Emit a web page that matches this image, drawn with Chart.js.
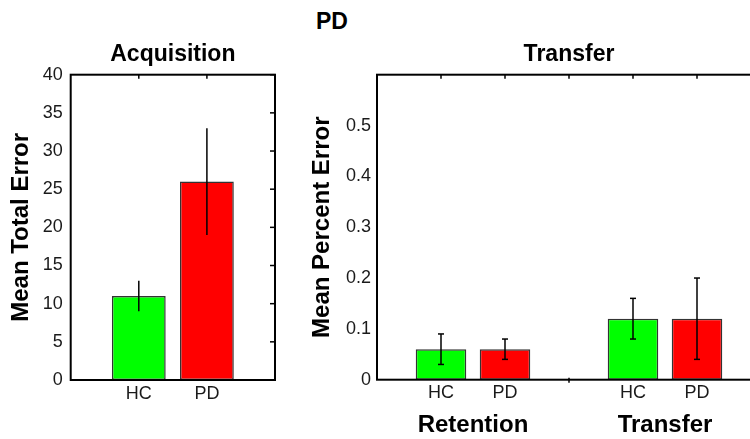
<!DOCTYPE html>
<html>
<head>
<meta charset="utf-8">
<script src="https://cdn.jsdelivr.net/npm/chart.js@4.4.1/dist/chart.umd.min.js"></script>
<style>
    html, body { margin: 0; padding: 0; background: #fff; width: 750px; height: 439px; overflow: hidden; position: relative; }
    #main-title { position: absolute; left: 232px; top: 10px; width: 200px; text-align: center; font: bold 23px 'Liberation Sans', Arial, sans-serif; line-height: 23px; color: #000; }
    #acqChart { position: absolute; left: 0; top: 0; }
    #transferChart { position: absolute; left: 300px; top: 0; }
</style>
</head>
<body>
<div id="main-title">PD</div>
<canvas id="acqChart" width="300" height="439"></canvas>
<canvas id="transferChart" width="462" height="439"></canvas>
<script>
// ===== Data =====
const subjects = ['HC', 'PD'];
const subjectColors = ['#00ff00', '#ff0000'];

// Acquisition: mean total error with error bar ends
const acqMean = [11, 26];
const acqLow = [9, 19];
const acqHigh = [13, 33];

// Transfer panel: phases x subjects (HC, PD, HC, PD)
const phases = ['Retention', 'Transfer'];
const pctMean = [0.06, 0.06, 0.12, 0.12];
const pctLow = [0.03, 0.04, 0.08, 0.04];
const pctHigh = [0.09, 0.08, 0.16, 0.20];

const FONT = "'Liberation Sans', Arial, Helvetica, sans-serif";

// x position of each bar: phases are spaced 3 units apart
const pctX = [];
const pctLabels = [];
phases.forEach((p, g) => {
    subjects.forEach((s, i) => {
        pctX.push(g * 3 + i + 1);
        pctLabels.push(s);
    });
});
const separators = phases.slice(1).map((p, g) => (g + 1) * 3);

// Error bars + box frame with inward ticks
const framePlugin = {
    id: 'frame',
    afterDatasetsDraw(chart, args, opts) {
        const { ctx, chartArea: a, scales } = chart;
        const x = scales.x, y = scales.y;
        ctx.save();
        ctx.strokeStyle = '#000';

        const line = (x1, y1, x2, y2) => {
            ctx.beginPath();
            ctx.moveTo(x1, y1);
            ctx.lineTo(x2, y2);
            ctx.stroke();
        };

        // error bars
        const ds = chart.data.datasets[0];
        const meta = chart.getDatasetMeta(0);
        ctx.lineWidth = 1.5;
        meta.data.forEach((bar, i) => {
            const yl = y.getPixelForValue(ds.errLow[i]);
            const yh = y.getPixelForValue(ds.errHigh[i]);
            line(bar.x, yl, bar.x, yh);
            if (ds.capWidth) {
                line(bar.x - ds.capWidth, yl, bar.x + ds.capWidth, yl);
                line(bar.x - ds.capWidth, yh, bar.x + ds.capWidth, yh);
            }
        });

        // inward ticks
        (opts.topTicks || []).forEach(v => {
            const px = x.getPixelForValue(v);
            line(px, a.top, px, a.top + 4);
        });
        if (opts.rightTicks) {
            y.ticks.forEach(t => {
                const py = y.getPixelForValue(t.value);
                line(a.right - 5, py, a.right, py);
            });
        }
        (opts.bottomTicks || []).forEach(v => {
            const px = x.getPixelForValue(v);
            line(px, a.bottom - 2, px, a.bottom + 3);
        });

        ctx.lineWidth = 2;
        ctx.strokeRect(a.left, a.top, a.right - a.left, a.bottom - a.top);
        ctx.restore();
    }
};

const tickFont = { family: FONT, size: 18 };
const titleFont = { family: FONT, size: 23, weight: 'bold' };
const axisTitleFont = { family: FONT, size: 24, weight: 'bold' };

// ===== Acquisition =====
new Chart(document.getElementById('acqChart'), {
    type: 'bar',
    data: {
        datasets: [{
            data: acqMean.map((v, i) => ({ x: i + 1, y: v })),
            backgroundColor: subjectColors,
            borderColor: '#333',
            borderWidth: 1.5,
            borderSkipped: false,
            categoryPercentage: 1,
            barPercentage: 0.79,
            errLow: acqLow,
            errHigh: acqHigh,
            capWidth: 0
        }]
    },
    options: {
        responsive: false,
        animation: false,
        layout: { padding: { left: 0, right: 25, top: 0, bottom: 0 } },
        plugins: {
            legend: { display: false },
            tooltip: { enabled: false },
            frame: { topTicks: subjects.map((s, i) => i + 1), rightTicks: true }
        },
        scales: {
            x: {
                type: 'linear',
                position: 'bottom',
                offset: false,
                min: 0,
                max: 3,
                grid: { display: false, drawTicks: false, offset: false },
                border: { display: false },
                afterBuildTicks: s => { s.ticks = subjects.map((n, i) => ({ value: i + 1 })); },
                ticks: {
                    callback: v => subjects[v - 1],
                    font: tickFont,
                    color: '#1a1a1a',
                    padding: 3,
                    autoSkip: false,
                    maxRotation: 0
                },
                afterFit: s => { s.height = 59; }
            },
            xTop: {
                type: 'linear',
                position: 'top',
                offset: false,
                min: 0,
                max: 3,
                grid: { display: false, drawTicks: false },
                border: { display: false },
                ticks: { display: false },
                title: { display: true, text: 'Acquisition', font: titleFont, color: '#000', padding: { top: 41, bottom: 0 } },
                afterFit: s => { s.height = 74.7; }
            },
            y: {
                min: 0,
                max: 40,
                grid: { display: false, drawTicks: false },
                border: { display: false },
                ticks: { stepSize: 5, font: tickFont, color: '#1a1a1a', padding: 8 },
                title: { display: true, text: 'Mean Total Error', font: axisTitleFont, color: '#000', padding: { top: 7, bottom: 0 } },
                afterFit: s => { s.width = 70.7; }
            }
        }
    },
    plugins: [framePlugin]
});

// ===== Transfer =====
new Chart(document.getElementById('transferChart'), {
    type: 'bar',
    data: {
        datasets: [{
            data: pctMean.map((v, i) => ({ x: pctX[i], y: v })),
            backgroundColor: pctLabels.map(s => subjectColors[subjects.indexOf(s)]),
            borderColor: '#333',
            borderWidth: 1.5,
            borderSkipped: false,
            categoryPercentage: 1,
            barPercentage: 0.79,
            errLow: pctLow,
            errHigh: pctHigh,
            capWidth: 3
        }]
    },
    options: {
        responsive: false,
        animation: false,
        layout: { padding: { left: 0, right: 1, top: 0, bottom: 0 } },
        plugins: {
            legend: { display: false },
            tooltip: { enabled: false },
            frame: { topTicks: pctX.concat(separators), rightTicks: true, bottomTicks: separators }
        },
        scales: {
            x: {
                type: 'linear',
                position: 'bottom',
                offset: false,
                min: 0,
                max: 6,
                grid: { display: false, drawTicks: false, offset: false },
                border: { display: false },
                afterBuildTicks: s => { s.ticks = pctX.map(v => ({ value: v })); },
                ticks: {
                    callback: v => pctLabels[pctX.indexOf(v)],
                    font: tickFont,
                    color: '#1a1a1a',
                    padding: 3,
                    autoSkip: false,
                    maxRotation: 0
                },
                afterFit: s => { s.height = 28; }
            },
            xPhase: {
                type: 'linear',
                position: 'bottom',
                offset: false,
                min: 0,
                max: 6,
                grid: { display: false, drawTicks: false },
                border: { display: false },
                afterBuildTicks: s => { s.ticks = phases.map((p, g) => ({ value: g * 3 + 1.5 })); },
                ticks: {
                    callback: v => phases[(v - 1.5) / 3],
                    font: { family: FONT, size: 24, weight: 'bold' },
                    color: '#000',
                    padding: 3,
                    autoSkip: false,
                    maxRotation: 0
                },
                afterFit: s => { s.height = 31.3; }
            },
            xTop: {
                type: 'linear',
                position: 'top',
                offset: false,
                min: 0,
                max: 6,
                grid: { display: false, drawTicks: false },
                border: { display: false },
                ticks: { display: false },
                title: { display: true, text: 'Transfer', font: titleFont, color: '#000', padding: { top: 41, bottom: 0 } },
                afterFit: s => { s.height = 74.7; }
            },
            y: {
                min: 0,
                max: 0.6,
                grid: { display: false, drawTicks: false },
                border: { display: false },
                ticks: {
                    stepSize: 0.1,
                    font: tickFont,
                    color: '#1a1a1a',
                    padding: 6,
                    callback: v => (v > 0.55 ? '' : Math.round(v * 10) / 10)
                },
                title: { display: true, text: 'Mean Percent Error', font: axisTitleFont, color: '#000', padding: { top: 8, bottom: 0 } },
                afterFit: s => { s.width = 77; }
            }
        }
    },
    plugins: [framePlugin]
});
</script>
</body>
</html>
